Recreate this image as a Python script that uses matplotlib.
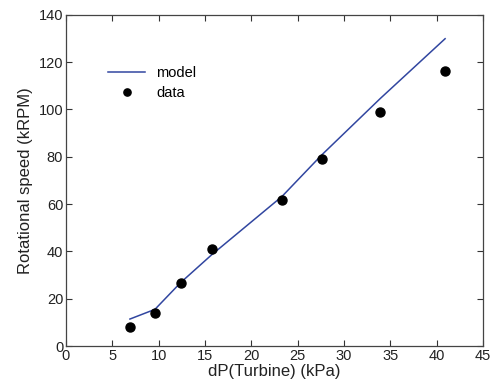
import matplotlib
matplotlib.use("Agg")
import matplotlib.pyplot as plt

# measured turbine data
dp_data = [6.9, 9.6, 12.37, 15.7, 23.3, 27.6, 33.9, 40.9]
rpm_data = [8.0, 14.1, 26.8, 40.9, 61.8, 79.0, 98.9, 116.2]

# model curve
dp_model = [6.9, 9.6, 12.37, 15.7, 23.3, 27.6, 33.9, 40.9]
rpm_model = [11.4, 15.5, 26.8, 38.5, 63.2, 80.8, 104.6, 129.9]

xticks = [0, 5, 10, 15, 20, 25, 30, 35, 40, 45]
yticks = [0, 20, 40, 60, 80, 100, 120, 140]

plt.rcParams["font.family"] = ["Liberation Sans", "DejaVu Sans"]

fig = plt.figure(figsize=(4.96, 3.86), dpi=100)
ax = fig.add_axes([0.133, 0.1036, 0.841, 0.858])

ax.plot(dp_model, rpm_model, color="#3146a0", lw=1.1, label="model")
ax.plot(dp_data, rpm_data, "o", color="black", ms=6.5, label="data")

ax.set_xlim(0, 45)
ax.set_ylim(0, 140)
ax.set_xticks(xticks)
ax.set_yticks(yticks)
ax.tick_params(direction="in", top=True, right=True, length=4, width=0.8,
               labelsize=10.5, colors="#333333", labelcolor="#222222", pad=2)
for s in ax.spines.values():
    s.set_color("#444444")
    s.set_linewidth(0.9)

ax.set_xlabel("dP(Turbine) (kPa)", fontsize=12, color="#222222", labelpad=1)
ax.set_ylabel("Rotational speed (kRPM)", fontsize=12, color="#222222", labelpad=4)

ax.legend(loc="upper left", bbox_to_anchor=(0.07, 0.885), frameon=False,
          fontsize=10.5, handlelength=2.5, labelspacing=0.4, markerscale=0.8)

fig.savefig("out.png", dpi=100)
